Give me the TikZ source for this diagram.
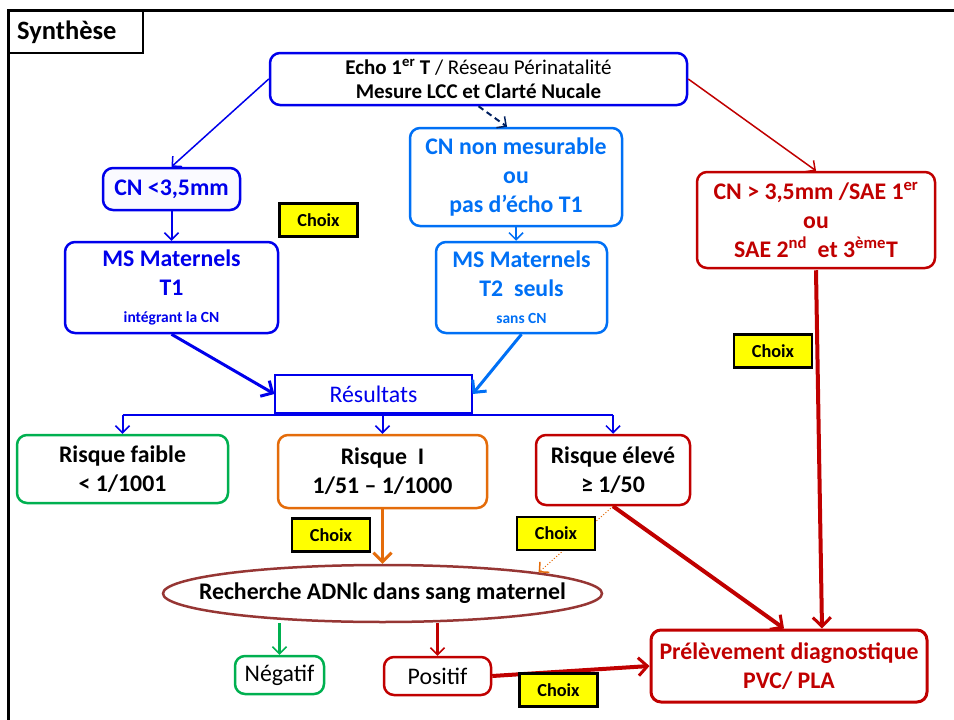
\documentclass[tikz,border=0pt]{standalone}
\usepackage{fontspec}
\setmainfont{Carlito}
\usetikzlibrary{arrows.meta,shapes.geometric}

\definecolor{bleu}{RGB}{0,0,235}
\definecolor{bleuclair}{RGB}{0,112,245}
\definecolor{marine}{RGB}{0,32,96}
\definecolor{rouge}{RGB}{192,0,0}
\definecolor{vert}{RGB}{0,176,80}
\definecolor{orange}{RGB}{228,108,10}
\definecolor{brun}{RGB}{150,54,52}
\definecolor{jaune}{RGB}{255,255,0}

\newcommand{\grand}{\fontsize{23.8}{29}\selectfont}
\newcommand{\petit}{\fontsize{15.5}{18}\selectfont}

\begin{document}
\begin{tikzpicture}[x=1pt,y=-1pt,
    boite/.style={draw, rounded corners=10pt, line width=2.5pt, align=center,
      inner sep=0pt, font=\grand\bfseries},
    choix/.style={draw=black, fill=jaune, line width=2.5pt, inner sep=0pt,
      minimum width=78pt, minimum height=33pt, font=\fontsize{18.3}{20}\selectfont\bfseries},
    fleche/.style={-{Straight Barb[length=7pt,width=14pt,line width=1.5pt]}},
    grosse/.style={-{Straight Barb[length=9pt,width=18pt,line width=3pt]}}]
  \useasboundingbox (0,0) rectangle (954,720);

  % cadre
  \draw[line width=3pt] (8,720) -- (8,10) -- (954,10);
  \draw[line width=1.5pt] (8,10) rectangle (143,53);
  \node[anchor=west, inner sep=0pt, font=\fontsize{26.5}{30}\selectfont\bfseries] (titre) at (17,32) {Synthèse};

  % premier niveau
  \node[boite, draw=bleu, minimum width=417pt, minimum height=52pt,
    font=\fontsize{21}{24}\selectfont] (echo) at (478.5,79)
    {\textbf{Echo 1\textsuperscript{er} T} / Réseau Périnatalité\\ \textbf{Mesure LCC et Clarté Nucale}};
  \node[boite, draw=bleu, fill=bleu!2, text=bleu, minimum width=137pt, minimum height=42pt] (cnbas) at (171.5,189) {CN <3,5mm};
  \node[boite, draw=bleuclair, text=bleuclair, minimum width=212pt, minimum height=98pt] (cnnon) at (516,177)
    {CN non mesurable\\ ou\\ pas d’écho T1};
  \node[boite, draw=rouge, text=rouge, minimum width=238pt, minimum height=96pt] (cnhaut) at (816,220)
    {CN > 3,5mm /SAE 1\textsuperscript{er}\\ ou\\ SAE 2\textsuperscript{nd}\ \ et 3\textsuperscript{ème}T};

  % marqueurs seriques
  \node[boite, draw=bleu, text=bleu, minimum width=213pt, minimum height=91pt] (mst1) at (171.5,287.5)
    {MS Maternels\\ T1\\[-2pt] {\petit intégrant la CN}};
  \node[boite, draw=bleuclair, text=bleuclair, minimum width=171pt, minimum height=91pt] (mst2) at (521.5,287.5)
    {MS Maternels\\ T2\ \ seuls\\[-2pt] {\petit sans CN}};
  \node[draw=bleu, line width=1.2pt, text=bleu, font=\grand, minimum width=197pt, minimum height=38pt] (res) at (373.5,394) {Résultats};

  % risques
  \node[boite, draw=vert, minimum width=211pt, minimum height=68pt] (faible) at (122.5,469) {Risque faible\\ < 1/1001};
  \node[boite, draw=orange, minimum width=209pt, minimum height=73pt] (moyen) at (382.5,471.5) {Risque\ \ I\\ 1/51 – 1/1000};
  \node[boite, draw=rouge, minimum width=154pt, minimum height=70pt] (eleve) at (613,470) {Risque élevé\\ ≥ 1/50};

  % ADN libre circulant
  \node[ellipse, draw=brun, line width=2.5pt, inner xsep=-30pt, inner ysep=0pt, minimum width=439pt, minimum height=57pt,
    font=\grand\bfseries] (adn) at (382.5,593.5) {Recherche ADNlc dans sang maternel};
  \node[boite, draw=vert, font=\grand, minimum width=89pt, minimum height=38pt] (negatif) at (279.5,675) {Négatif};
  \node[boite, draw=rouge, font=\grand, minimum width=107pt, minimum height=38pt] (positif) at (437.5,676) {Positif};
  \node[boite, draw=rouge, line width=3pt, text=rouge, minimum width=276pt, minimum height=72pt] (prel) at (789,666)
    {Prélèvement diagnostique\\ PVC/ PLA};

  % fleches du haut
  \draw[fleche, bleu, line width=1.5pt] (echo.west) -- (cnbas.north);
  \draw[fleche, rouge, line width=1.5pt] (echo.east) -- (cnhaut.north);
  \draw[fleche, marine, line width=2pt, dashed, dash pattern=on 6pt off 4pt] (echo.south) -- ([xshift=-9pt]cnnon.north);
  \draw[fleche, bleu, line width=2pt] (cnbas.south) -- (mst1.north);
  \draw[fleche, bleuclair, line width=2pt] (cnnon.south) -- (cnnon.south |- mst2.north);
  \draw[grosse, bleu, line width=3pt] (mst1.south) -- (res.west);
  \draw[grosse, bleuclair, line width=3pt] (mst2.south) -- (res.east);

  % repartition des resultats
  \coordinate (bus) at (373.5,415);
  \draw[bleu, line width=2pt] (bus -| faible.north) -- (bus -| eleve.north);
  \draw[fleche, bleu, line width=2pt] (bus -| faible.north) -- (faible.north);
  \draw[fleche, bleu, line width=2pt] (bus -| moyen.north) -- (moyen.north);
  \draw[fleche, bleu, line width=2pt] (bus -| eleve.north) -- (eleve.north);

  % vers ADNlc et prelevement
  \draw[grosse, orange, line width=2.5pt] (moyen.south) -- (adn.north);
  \draw[fleche, orange, line width=1pt, dotted] (eleve.south) -- (adn.north east);
  \draw[grosse, rouge, line width=4pt] (eleve.south) -- ([xshift=-5pt]prel.north);
  \draw[grosse, rouge, line width=4pt] ([yshift=-1pt]cnhaut.south) -- ([xshift=33pt]prel.north);
  \draw[fleche, vert, line width=2.5pt] (negatif.north |- adn.south) -- (negatif.north);
  \draw[fleche, rouge, line width=2.5pt] (positif.north |- adn.south) -- (positif.north);
  \draw[grosse, rouge, line width=4pt] (positif.east) -- (prel.west);

  % choix
  \node[choix] (choix1) at (318.5,220) {Choix};
  \node[choix] (choix2) at (773,351) {Choix};
  \node[choix] (choix3) at (331,535) {Choix};
  \node[choix] (choix4) at (556,533.5) {Choix};
  \node[choix] (choix5) at (558.5,690) {Choix};
\end{tikzpicture}
\end{document}
